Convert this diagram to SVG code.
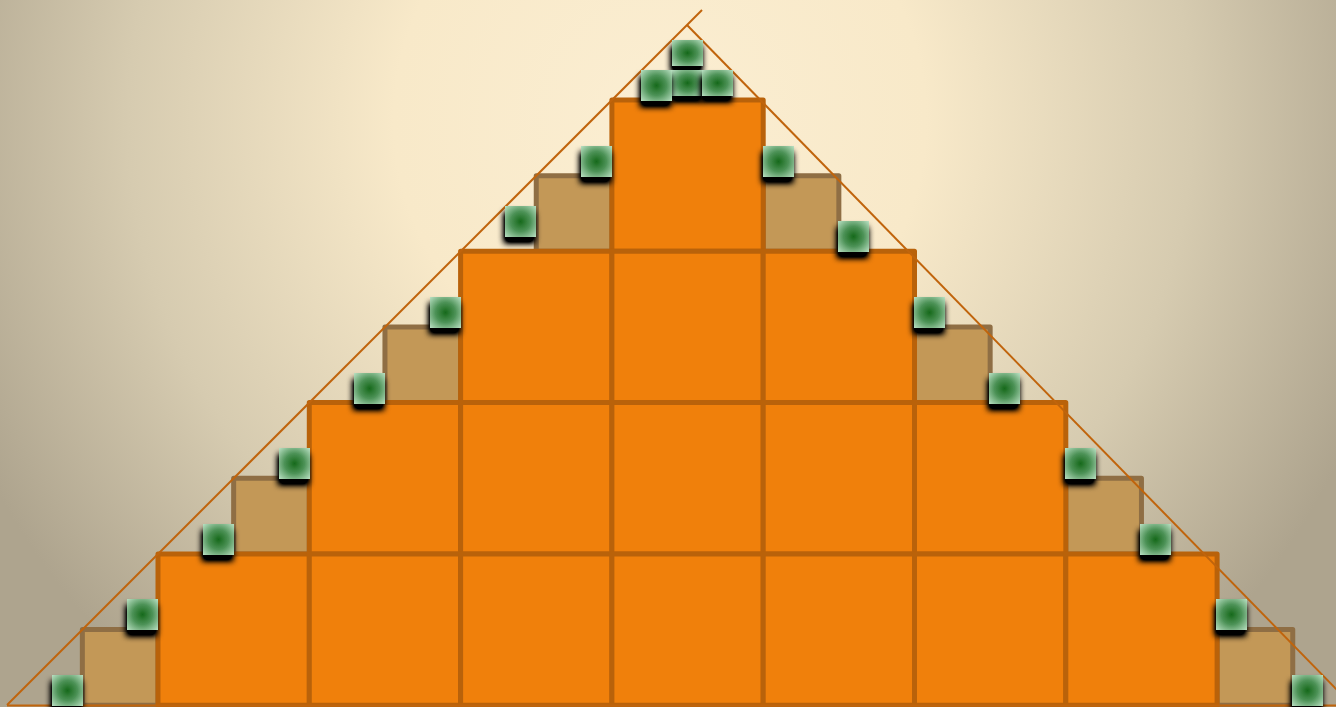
<svg xmlns="http://www.w3.org/2000/svg" width="1336" height="707" viewBox="0 0 1336 707">
<defs>
<radialGradient id="bg" gradientUnits="userSpaceOnUse" cx="660" cy="120" r="760">
<stop offset="0" stop-color="#fbeed2"/>
<stop offset="0.35" stop-color="#f8e9c9"/>
<stop offset="0.7" stop-color="#d6cbb0"/>
<stop offset="1" stop-color="#aea48e"/>
</radialGradient>
<radialGradient id="gr" cx="0.5" cy="0.5" r="0.72">
<stop offset="0" stop-color="#16691a"/>
<stop offset="0.45" stop-color="#4d9257"/>
<stop offset="1" stop-color="#bfe4c8"/>
</radialGradient>
<filter id="sh" x="-40%" y="-40%" width="180%" height="200%">
<feGaussianBlur in="SourceAlpha" stdDeviation="3.3"/>
<feOffset dx="-1.5" dy="6" result="b"/>
<feComponentTransfer><feFuncA type="linear" slope="1.6"/></feComponentTransfer>
<feMerge><feMergeNode/><feMergeNode in="SourceGraphic"/></feMerge>
</filter>
</defs>
<style>
.cell{fill:#f0800b;stroke:#b9620a;stroke-width:5;stroke-linejoin:round}
.tan{fill:#c39857;stroke:#8f6e44;stroke-width:5;stroke-linejoin:round}
.g{fill:url(#gr);filter:url(#sh)}
.ln{stroke:#c0640c;stroke-width:2;fill:none}
</style>
<rect x="0" y="0" width="1336" height="707" fill="url(#bg)"/>
<g id="tans">
<rect class="tan" x="536.25" y="175.65" width="75.65" height="75.65"/>
<rect class="tan" x="763.2" y="175.65" width="75.65" height="75.65"/>
<rect class="tan" x="384.95" y="326.95" width="75.65" height="75.65"/>
<rect class="tan" x="914.5" y="326.95" width="75.65" height="75.65"/>
<rect class="tan" x="233.65" y="478.25" width="75.65" height="75.65"/>
<rect class="tan" x="1065.8" y="478.25" width="75.65" height="75.65"/>
<rect class="tan" x="82.35" y="629.55" width="75.65" height="75.65"/>
<rect class="tan" x="1217.1" y="629.55" width="75.65" height="75.65"/>
</g>
<g id="grid">
<rect class="cell" x="611.9" y="100" width="151.3" height="151.3"/>
<rect class="cell" x="460.6" y="251.3" width="151.3" height="151.3"/>
<rect class="cell" x="611.9" y="251.3" width="151.3" height="151.3"/>
<rect class="cell" x="763.2" y="251.3" width="151.3" height="151.3"/>
<rect class="cell" x="309.3" y="402.6" width="151.3" height="151.3"/>
<rect class="cell" x="460.6" y="402.6" width="151.3" height="151.3"/>
<rect class="cell" x="611.9" y="402.6" width="151.3" height="151.3"/>
<rect class="cell" x="763.2" y="402.6" width="151.3" height="151.3"/>
<rect class="cell" x="914.5" y="402.6" width="151.3" height="151.3"/>
<rect class="cell" x="158" y="553.9" width="151.3" height="151.3"/>
<rect class="cell" x="309.3" y="553.9" width="151.3" height="151.3"/>
<rect class="cell" x="460.6" y="553.9" width="151.3" height="151.3"/>
<rect class="cell" x="611.9" y="553.9" width="151.3" height="151.3"/>
<rect class="cell" x="763.2" y="553.9" width="151.3" height="151.3"/>
<rect class="cell" x="914.5" y="553.9" width="151.3" height="151.3"/>
<rect class="cell" x="1065.8" y="553.9" width="151.3" height="151.3"/>
</g>
<g id="connectors">
<line class="ln" x1="7" y1="705" x2="702" y2="10"/>
<line class="ln" x1="687" y1="25" x2="1340" y2="693"/>
<line class="ln" x1="7" y1="705.5" x2="1336" y2="705.5"/>
</g>
<g id="greens">
<rect class="g" x="672" y="40" width="31" height="26"/>
<rect class="g" x="672" y="70" width="31" height="26"/>
<rect class="g" x="702" y="70" width="31" height="26"/>
<rect class="g" x="641" y="70" width="31" height="31"/>
<rect class="g" x="581" y="146" width="31" height="31"/>
<rect class="g" x="505" y="206" width="31" height="31"/>
<rect class="g" x="763" y="146" width="31" height="31"/>
<rect class="g" x="838" y="221" width="31" height="31"/>
<rect class="g" x="430" y="297" width="31" height="31"/>
<rect class="g" x="354" y="373" width="31" height="31"/>
<rect class="g" x="914" y="297" width="31" height="31"/>
<rect class="g" x="989" y="373" width="31" height="31"/>
<rect class="g" x="279" y="448" width="31" height="31"/>
<rect class="g" x="203" y="524" width="31" height="31"/>
<rect class="g" x="1065" y="448" width="31" height="31"/>
<rect class="g" x="1140" y="524" width="31" height="31"/>
<rect class="g" x="127" y="599" width="31" height="31"/>
<rect class="g" x="52" y="675" width="31" height="31"/>
<rect class="g" x="1216" y="599" width="31" height="31"/>
<rect class="g" x="1292" y="675" width="31" height="31"/>
</g>
</svg>
